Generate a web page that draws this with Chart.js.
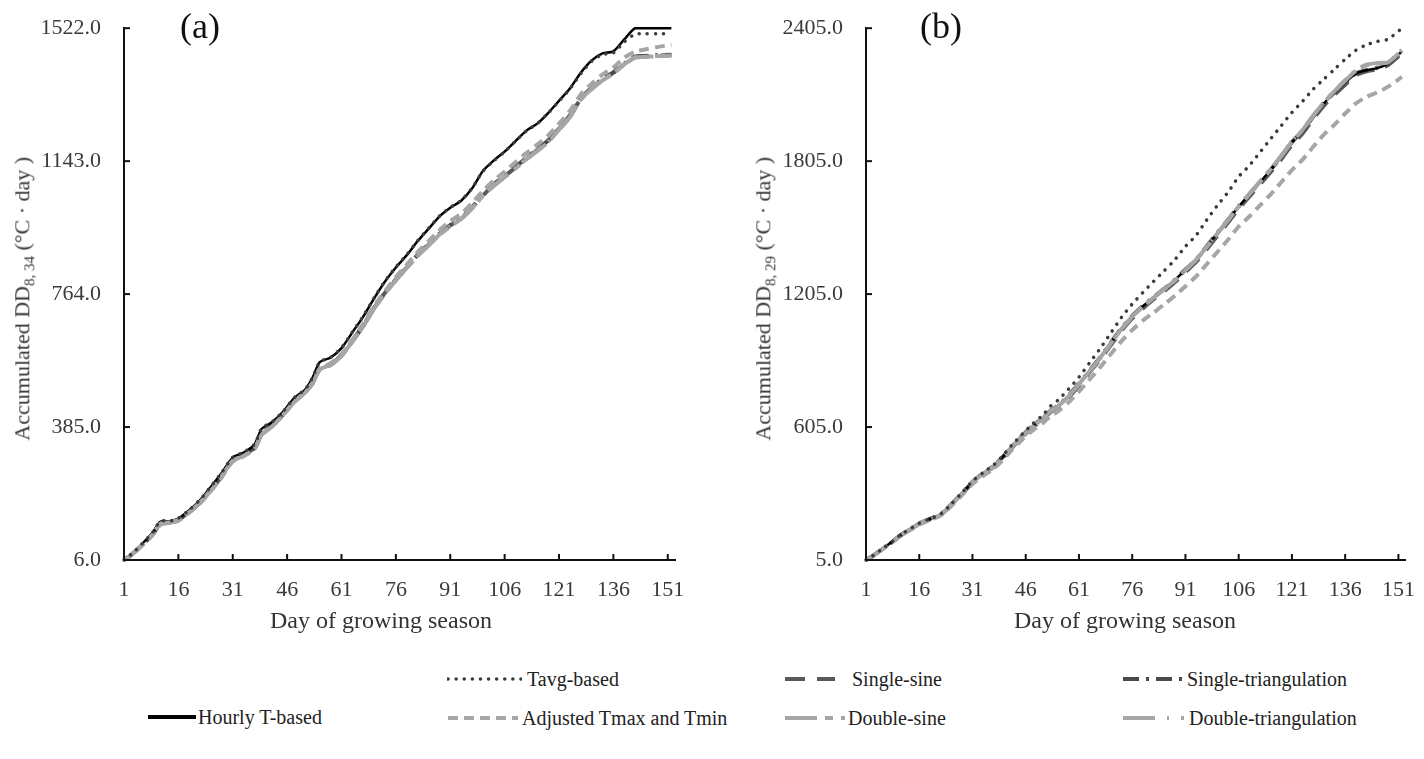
<!DOCTYPE html>
<html>
<head>
<meta charset="utf-8">
<script src="https://cdn.jsdelivr.net/npm/chart.js@4"></script>
<style>
  body { margin: 0; background: #fff; width: 1424px; height: 759px; position: relative; overflow: hidden; font-family: "Liberation Serif", serif; }
  .panel { position: absolute; top: 0; }
  .ytitle { position: absolute; width: 420px; text-align: center; transform: rotate(-90deg); font-size: 22px; line-height: 24px; color: #333; white-space: nowrap; }
  .ytitle sub { font-size: 15px; }
  .xtitle { position: absolute; width: 300px; text-align: center; font-size: 24px; line-height: 26px; color: #333; }
  .tag { position: absolute; font-size: 36px; line-height: 36px; color: #111; }
  .leg { position: absolute; height: 24px; display: flex; align-items: center; font-size: 20px; color: #222; white-space: nowrap; }
  .leg svg { display: block; }
</style>
</head>
<body>
<div class="panel" style="left:0"><canvas id="chart-a" width="700" height="640"></canvas></div>
<div class="panel" style="left:700px"><canvas id="chart-b" width="724" height="640"></canvas></div>

<div class="ytitle" style="left:-184px; top:283px">Accumulated DD<sub>8, 34</sub> (°C · day )</div>
<div class="ytitle" style="left:557px; top:283px">Accumulated DD<sub>8, 29</sub> (°C · day )</div>
<div class="xtitle" style="left:231px; top:607px">Day of growing season</div>
<div class="xtitle" style="left:975px; top:607px">Day of growing season</div>
<div class="tag" style="left:180px; top:8px">(a)</div>
<div class="tag" style="left:920px; top:8px">(b)</div>

<div id="legend"></div>

<script>
const days = [1, 3, 6, 9, 11, 14, 16, 19, 22, 25, 28, 31, 34, 37, 39, 42, 45, 48, 51, 53, 55, 58, 61, 64, 67, 70, 73, 76, 79, 82, 85, 88, 91, 94, 97, 100, 103, 106, 109, 112, 115, 118, 121, 124, 127, 130, 133, 136, 139, 142, 145, 148, 152];
const xTicks = [1, 16, 31, 46, 61, 76, 91, 106, 121, 136, 151];
const yTicksA = [6, 385, 764, 1143, 1522];
const yTicksB = [5, 605, 1205, 1805, 2405];

// panel (a): DD 8,34
const hourlyA = [6, 22, 52, 85, 115, 117, 124, 148, 177, 215, 255, 298, 312, 335, 380, 400, 430, 468, 492, 525, 570, 583, 610, 655, 700, 752, 800, 840, 875, 915, 950, 985, 1010, 1030, 1065, 1115, 1145, 1170, 1200, 1230, 1250, 1280, 1315, 1350, 1395, 1430, 1450, 1456, 1490, 1522, 1522, 1522, 1522];
const tavgA = [6, 22, 52, 86, 116, 118, 125, 149, 178, 216, 256, 299, 313, 336, 381, 401, 431, 469, 493, 526, 570, 584, 611, 656, 701, 753, 801, 841, 876, 916, 951, 986, 1011, 1031, 1066, 1114, 1144, 1170, 1200, 1229, 1250, 1280, 1314, 1349, 1392, 1428, 1447, 1452, 1483, 1505, 1506, 1506, 1506];
const singleSineA = [6, 20, 48, 80, 108, 114, 120, 143, 170, 205, 245, 290, 305, 325, 365, 390, 422, 458, 485, 510, 550, 562, 590, 630, 675, 725, 768, 805, 840, 875, 905, 935, 960, 980, 1010, 1045, 1075, 1100, 1125, 1150, 1175, 1200, 1235, 1270, 1320, 1350, 1375, 1395, 1420, 1440, 1442, 1444, 1445];
const singleTriA = [6, 21, 49, 81, 110, 115, 121, 144, 171, 207, 247, 291, 306, 327, 367, 392, 424, 460, 487, 512, 551, 563, 589, 629, 674, 724, 767, 806, 842, 876, 906, 936, 961, 981, 1012, 1047, 1077, 1101, 1127, 1152, 1177, 1202, 1237, 1273, 1322, 1352, 1377, 1396, 1421, 1441, 1443, 1445, 1446];
const adjustedA = [6, 20, 47, 78, 106, 112, 118, 141, 168, 203, 243, 287, 302, 323, 362, 388, 421, 458, 486, 512, 552, 567, 593, 634, 680, 730, 773, 812, 848, 884, 915, 946, 972, 993, 1024, 1058, 1088, 1113, 1140, 1166, 1190, 1216, 1250, 1286, 1333, 1364, 1390, 1410, 1438, 1455, 1462, 1468, 1475];
const doubleSineA = [6, 20, 48, 79, 107, 113, 119, 142, 169, 204, 244, 288, 303, 323, 363, 388, 420, 456, 483, 508, 548, 562, 588, 628, 672, 722, 765, 803, 838, 872, 902, 932, 957, 978, 1008, 1043, 1072, 1097, 1122, 1148, 1172, 1197, 1232, 1268, 1318, 1348, 1373, 1393, 1418, 1438, 1440, 1442, 1443];
const doubleTriA = [6, 21, 49, 80, 109, 114, 120, 143, 170, 206, 246, 289, 304, 324, 364, 389, 421, 457, 484, 509, 549, 563, 589, 629, 673, 723, 766, 804, 839, 873, 903, 933, 958, 979, 1009, 1044, 1073, 1098, 1123, 1149, 1173, 1198, 1233, 1269, 1319, 1349, 1374, 1394, 1419, 1439, 1441, 1443, 1444];

// panel (b): DD 8,29
const hourlyB = [5, 25, 60, 95, 120, 150, 170, 190, 210, 255, 305, 358, 395, 430, 460, 515, 565, 610, 648, 680, 700, 745, 800, 860, 920, 985, 1050, 1105, 1150, 1190, 1228, 1268, 1315, 1360, 1420, 1480, 1540, 1600, 1655, 1710, 1765, 1825, 1890, 1940, 2005, 2065, 2115, 2160, 2200, 2215, 2225, 2245, 2300];
const tavgB = [5, 25, 60, 96, 121, 151, 171, 191, 212, 257, 308, 361, 399, 435, 466, 522, 573, 620, 662, 700, 725, 775, 830, 895, 960, 1030, 1100, 1160, 1212, 1262, 1310, 1360, 1420, 1470, 1540, 1605, 1665, 1735, 1785, 1845, 1905, 1965, 2025, 2075, 2130, 2175, 2220, 2265, 2305, 2330, 2345, 2355, 2405];
const singleSineB = [5, 24, 59, 94, 118, 148, 168, 188, 208, 252, 302, 354, 391, 426, 456, 510, 560, 604, 642, 673, 694, 738, 792, 852, 911, 975, 1040, 1095, 1140, 1182, 1218, 1258, 1304, 1350, 1408, 1468, 1528, 1590, 1645, 1700, 1755, 1814, 1878, 1930, 1995, 2055, 2105, 2150, 2192, 2210, 2220, 2238, 2292];
const singleTriB = [5, 25, 60, 95, 120, 150, 171, 191, 211, 256, 306, 358, 396, 431, 461, 515, 566, 611, 649, 680, 701, 746, 801, 860, 920, 986, 1051, 1106, 1151, 1191, 1229, 1269, 1316, 1361, 1421, 1481, 1541, 1601, 1656, 1711, 1766, 1826, 1891, 1941, 2006, 2066, 2116, 2161, 2201, 2216, 2226, 2246, 2301];
const adjustedB = [5, 24, 58, 92, 116, 145, 165, 185, 205, 248, 297, 348, 384, 418, 447, 500, 548, 590, 625, 655, 675, 715, 765, 820, 875, 935, 993, 1043, 1085, 1122, 1158, 1198, 1240, 1285, 1340, 1395, 1450, 1510, 1555, 1605, 1655, 1710, 1765, 1812, 1870, 1925, 1970, 2020, 2065, 2095, 2115, 2140, 2185];
const doubleSineB = [5, 24, 59, 94, 119, 149, 169, 189, 209, 253, 303, 356, 393, 428, 458, 512, 562, 607, 645, 677, 697, 742, 797, 857, 917, 982, 1047, 1102, 1148, 1188, 1226, 1266, 1313, 1359, 1418, 1478, 1538, 1600, 1656, 1712, 1768, 1828, 1893, 1945, 2010, 2070, 2120, 2168, 2212, 2238, 2245, 2250, 2305];
const doubleTriB = [5, 24, 59, 94, 119, 149, 169, 189, 209, 254, 304, 357, 394, 429, 459, 513, 563, 608, 646, 678, 698, 743, 798, 858, 918, 983, 1048, 1103, 1149, 1189, 1227, 1267, 1314, 1360, 1419, 1479, 1539, 1601, 1657, 1713, 1769, 1829, 1894, 1946, 2011, 2071, 2121, 2170, 2215, 2240, 2248, 2252, 2306];

// line styles per method; the first one is drawn on top
const styles = [
  { key: 'tavg', label: 'Tavg-based', color: '#3c3c3c', width: 3.5, dash: [0.1, 8], cap: 'round' },
  { key: 'doubleTri', label: 'Double-triangulation', color: '#a6a6a6', width: 4, dash: [26, 8, 2, 8], cap: 'butt' },
  { key: 'doubleSine', label: 'Double-sine', color: '#a6a6a6', width: 4, dash: [26, 7, 8, 7], cap: 'butt' },
  { key: 'adjusted', label: 'Adjusted Tmax and Tmin', color: '#a6a6a6', width: 4, dash: [10, 6], cap: 'butt' },
  { key: 'hourly', label: 'Hourly T-based', color: '#000000', width: 2.5, dash: [], cap: 'butt' },
  { key: 'singleTri', label: 'Single-triangulation', color: '#4a4a4a', width: 4, dash: [16, 7, 3, 7], cap: 'butt' },
  { key: 'singleSine', label: 'Single-sine', color: '#595959', width: 4, dash: [18, 11], cap: 'butt' },
];

const seriesA = { hourly: hourlyA, tavg: tavgA, singleSine: singleSineA, singleTri: singleTriA, adjusted: adjustedA, doubleSine: doubleSineA, doubleTri: doubleTriA };
const seriesB = { hourly: hourlyB, tavg: tavgB, singleSine: singleSineB, singleTri: singleTriB, adjusted: adjustedB, doubleSine: doubleSineB, doubleTri: doubleTriB };

const tickFont = { family: 'Liberation Serif', size: 22 };

// tick marks point into the plot area
const innerTicks = {
  id: 'innerTicks',
  afterDraw(chart) {
    const { ctx, chartArea } = chart;
    const x = chart.scales.x, y = chart.scales.y;
    ctx.save();
    ctx.strokeStyle = '#111';
    ctx.lineWidth = 2;
    x.ticks.forEach(t => {
      const px = x.getPixelForValue(t.value);
      ctx.beginPath();
      ctx.moveTo(px, chartArea.bottom);
      ctx.lineTo(px, chartArea.bottom - 6);
      ctx.stroke();
    });
    y.ticks.forEach(t => {
      const py = y.getPixelForValue(t.value);
      ctx.beginPath();
      ctx.moveTo(chartArea.left, py);
      ctx.lineTo(chartArea.left + 6, py);
      ctx.stroke();
    });
    ctx.restore();
  }
};

const makePanel = (id, series, yTicks, axisWidth, padRight) => {
  const datasets = styles.map(s => ({
    label: s.label,
    data: days.map((d, i) => ({ x: d, y: series[s.key][i] })),
    borderColor: s.color,
    borderWidth: s.width,
    borderDash: s.dash,
    borderCapStyle: s.cap,
    pointRadius: 0,
    tension: 0.25,
    fill: false,
    clip: false,
  }));

  return new Chart(document.getElementById(id), {
    type: 'line',
    data: { datasets },
    plugins: [innerTicks],
    options: {
      responsive: false,
      animation: false,
      devicePixelRatio: 1,
      layout: { padding: { top: 28, right: padRight, bottom: 0, left: 0 } },
      plugins: { legend: { display: false }, tooltip: { enabled: false } },
      scales: {
        x: {
          type: 'linear',
          min: 1,
          max: 153,
          afterBuildTicks: s => { s.ticks = xTicks.map(v => ({ value: v })); },
          afterFit: s => { s.height = 80; },
          grid: { display: false },
          border: { display: true, color: '#111', width: 2 },
          ticks: { font: tickFont, color: '#3a3a3a', padding: 9, maxRotation: 0, callback: v => v },
        },
        y: {
          min: yTicks[0],
          max: yTicks[yTicks.length - 1],
          afterBuildTicks: s => { s.ticks = yTicks.map(v => ({ value: v })); },
          afterFit: s => { s.width = axisWidth; },
          grid: { display: false },
          border: { display: true, color: '#111', width: 2 },
          ticks: { font: tickFont, color: '#3a3a3a', padding: 15, callback: v => v.toFixed(1) },
        },
      },
    },
  });
};

makePanel('chart-a', seriesA, yTicksA, 124, 25);
makePanel('chart-b', seriesB, yTicksB, 166, 7);

// legend, laid out like the figure
const legendItems = [
  { key: 'hourly', left: 147, top: 705, sample: 50, textLeft: 198 },
  { key: 'tavg', left: 447, top: 667, sample: 75, textLeft: 527 },
  { key: 'adjusted', left: 447, top: 706, sample: 72, textLeft: 522 },
  { key: 'singleSine', left: 784, top: 667, sample: 52, textLeft: 852 },
  { key: 'doubleSine', left: 784, top: 706, sample: 62, textLeft: 848 },
  { key: 'singleTri', left: 1122, top: 667, sample: 63, textLeft: 1187 },
  { key: 'doubleTri', left: 1122, top: 706, sample: 63, textLeft: 1189 },
];

const legendDash = { singleSine: [20, 12], doubleSine: [32, 8, 8, 8], doubleTri: [32, 12, 2, 12] };

const legend = document.getElementById('legend');
legendItems.forEach(item => {
  const s = styles.find(st => st.key === item.key);
  const el = document.createElement('div');
  el.className = 'leg';
  el.style.left = item.left + 'px';
  el.style.top = item.top + 'px';
  const w = item.key === 'hourly' ? 4 : s.width;
  const dash = legendDash[item.key] || s.dash;
  el.innerHTML = `
    <svg width="${item.sample}" height="24"><line x1="1" y1="12" x2="${item.sample - 1}" y2="12" stroke="${s.color}" stroke-width="${w}" stroke-dasharray="${dash.join(' ')}" stroke-linecap="${s.cap}"/></svg>
    <span style="margin-left:${item.textLeft - item.left - item.sample}px">${s.label}</span>`;
  legend.appendChild(el);
});
</script>
</body>
</html>
